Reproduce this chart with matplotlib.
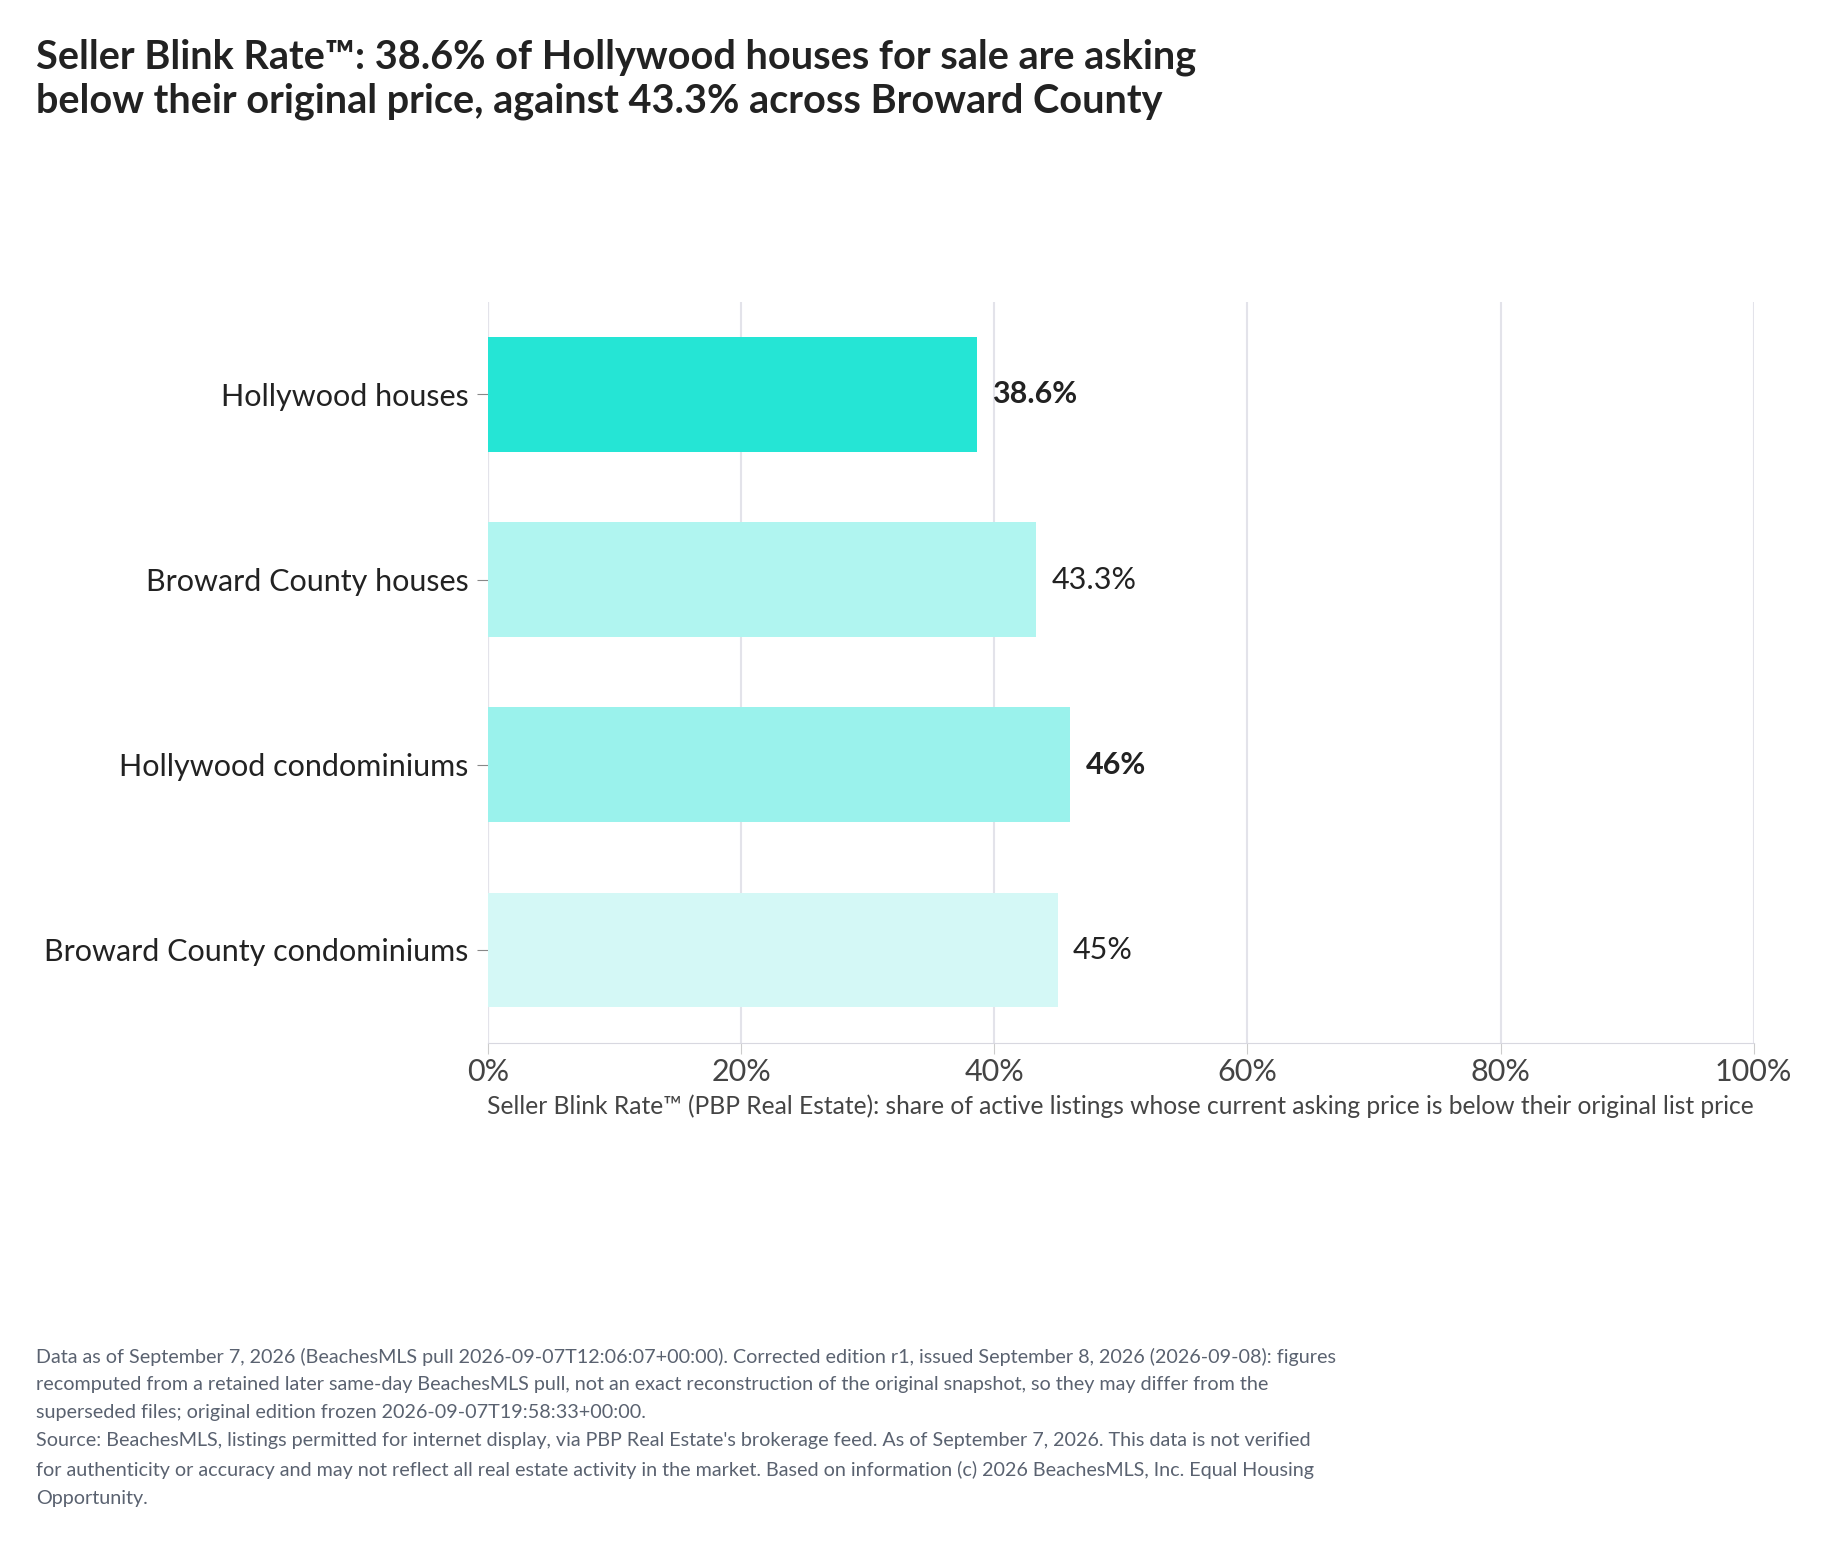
import matplotlib
matplotlib.use("Agg")
import matplotlib.pyplot as plt
from matplotlib.ticker import FuncFormatter

plt.rcParams['font.family'] = ['Lato', 'DejaVu Sans']

categories = ["Hollywood houses", "Broward County houses", "Hollywood condominiums", "Broward County condominiums"]
values = [38.6, 43.3, 46.0, 45.0]
labels = ["38.6%", "43.3%", "46%", "45%"]
bold = [True, False, True, False]
colors = ["#25E5D5", "#B0F5F0", "#9AF2EC", "#D4F8F6"]

fig = plt.figure(figsize=(18.21, 15.56), dpi=100)
ax = fig.add_axes([0.268, 0.330, 0.695, 0.476])
y = list(range(len(categories)))
ax.barh(y, values, color=colors, height=0.62, zorder=2)
ax.set_ylim(3.5, -0.5)
ax.set_xlim(0, 100)
ax.set_yticks(y)
ax.set_yticklabels(categories, fontsize=22, color="#222222")
ax.set_xticks([0, 20, 40, 60, 80, 100])
ax.xaxis.set_major_formatter(FuncFormatter(lambda v, p: f"{int(v)}%"))
ax.tick_params(axis='x', labelsize=22, colors="#444444", length=8, color="#cccccc")
ax.tick_params(axis='y', length=8, color="#888888", pad=6)
ax.grid(axis='x', color="#e3e3ea", linewidth=1.5, zorder=0)
for s in ["top", "right", "left"]:
    ax.spines[s].set_visible(False)
ax.spines["bottom"].set_color("#d8d8e0")
ax.axvline(0, color="#d8d8e0", lw=1.5, zorder=1)
for yi, v, l, b in zip(y, values, labels, bold):
    ax.text(v + 1.2, yi, l, va='center', ha='left', fontsize=22,
            fontweight='bold' if b else 'normal', color="#222222")
ax.set_xlabel("Seller Blink Rate™ (PBP Real Estate): share of active listings whose current asking price is below their original list price",
              fontsize=17.7, color="#444444", labelpad=6)

fig.text(0.02, 0.975, "Seller Blink Rate™: 38.6% of Hollywood houses for sale are asking\nbelow their original price, against 43.3% across Broward County",
         fontsize=28.5, fontweight='bold', color="#222222", va='top', ha='left', linespacing=1.2)

foot = ("Data as of September 7, 2026 (BeachesMLS pull 2026-09-07T12:06:07+00:00). Corrected edition r1, issued September 8, 2026 (2026-09-08): figures\n"
        "recomputed from a retained later same-day BeachesMLS pull, not an exact reconstruction of the original snapshot, so they may differ from the\n"
        "superseded files; original edition frozen 2026-09-07T19:58:33+00:00.\n"
        "Source: BeachesMLS, listings permitted for internet display, via PBP Real Estate's brokerage feed. As of September 7, 2026. This data is not verified\n"
        "for authenticity or accuracy and may not reflect all real estate activity in the market. Based on information (c) 2026 BeachesMLS, Inc. Equal Housing\n"
        "Opportunity.")
fig.text(0.02, 0.134, foot, fontsize=14.2, color="#5a6270", va='top', ha='left', linespacing=1.78)

fig.savefig("out.png", dpi=100)
